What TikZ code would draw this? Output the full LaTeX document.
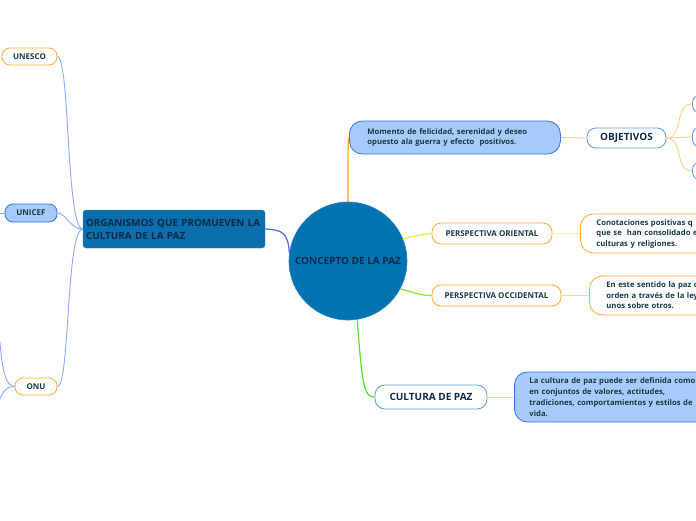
\documentclass[tikz,border=0pt]{standalone}
\usepackage{fontspec}
\setmainfont{Open Sans}
\definecolor{circblue}{HTML}{0073B0}
\definecolor{orgblue}{HTML}{0B6FAE}
\definecolor{lblue}{HTML}{A6CAFA}
\definecolor{bblue}{HTML}{3575DD}
\definecolor{sblue}{HTML}{5B9BD5}
\definecolor{orangeB}{HTML}{FFAA33}
\definecolor{txtd}{HTML}{173C45}
\definecolor{txth}{HTML}{0F2B4A}
\definecolor{cOrange}{HTML}{FFA41B}
\definecolor{cLOrange}{HTML}{FFD08A}
\definecolor{cYellow}{HTML}{EEEE3A}
\definecolor{cLYellow}{HTML}{F4F4A8}
\definecolor{cYGreen}{HTML}{8CEB2E}
\definecolor{cLYGreen}{HTML}{CDF2A6}
\definecolor{cGreen}{HTML}{4CE62A}
\definecolor{cLGreen}{HTML}{C2F2B0}
\definecolor{cBlue}{HTML}{4A6CF7}
\definecolor{cLBlue}{HTML}{8FA8FF}
\begin{document}
\begin{tikzpicture}[x=1pt,y=-1pt,
  pillbox/.style={draw, line width=0.8pt, fill=white, inner sep=0pt, font=\bfseries\fontsize{8}{9}\selectfont, text=txtd},
  hdrbox/.style={draw=sblue, line width=0.8pt, fill=white, inner sep=0pt, font=\bfseries\fontsize{10}{11}\selectfont, text=txth},
  txtbox/.style={draw, line width=0.8pt, inner ysep=0pt, align=left, font=\bfseries\fontsize{7.7}{10.5}\selectfont, text=txtd, anchor=west, rounded corners=13pt},
  mainline/.style={line width=1.2pt},
  subline/.style={line width=0.9pt}
]
\useasboundingbox (0,0) rectangle (696,520);
\clip (0,0) rectangle (696,520);
\fill[white] (0,0) rectangle (696,520);

% center
\node[circle, fill=circblue, draw=circblue!85!white, line width=0.6pt, minimum size=118pt, inner sep=0pt,
  font=\bfseries\fontsize{10}{11}\selectfont, text=txth] (circ) at (348,261) {CONCEPTO DE LA PAZ};

% left branch
\node[fill=orgblue, draw=orgblue!80!white, rounded corners=3pt, minimum width=182pt, minimum height=38pt,
  inner xsep=3pt, inner ysep=0pt, text width=176pt, align=left,
  font=\bfseries\fontsize{9.9}{13}\selectfont, text=txth] (org) at (174,229) {ORGANISMOS QUE PROMUEVEN LA\\CULTURA DE LA PAZ};

\node[pillbox, draw=orangeB, rounded corners=8pt, minimum width=55pt, minimum height=17pt] (unesco) at (29.5,56.5) {UNESCO};
\node[pillbox, draw=bblue, fill=lblue, rounded corners=8pt, minimum width=52pt, minimum height=18pt] (unicef) at (31,213) {UNICEF};
\node[pillbox, draw=orangeB, rounded corners=8pt, minimum width=42pt, minimum height=17pt] (onu) at (36,386.5) {ONU};

\coordinate (ul) at (-2,213);
\coordinate (ol1) at (0,342);
\coordinate (ol2) at (-1,402);

\draw[mainline, cBlue] (org.east) .. controls (282,230) and (288,232) .. (circ.172);
\draw[subline, cLBlue] (org.west) .. controls (66,229) and (70,57) .. (unesco.east);
\draw[subline, cLBlue] (org.west) .. controls (70,229) and (66,213) .. (unicef.east);
\draw[subline, cLBlue] (org.west) .. controls (66,229) and (70,386.5) .. (onu.east);
\draw[subline, cLBlue] (unicef.west) -- (ul);
\draw[subline, cLBlue] (onu.west) .. controls (6,386.5) and (2,370) .. (ol1);
\draw[subline, cLBlue] (onu.west) .. controls (6,386.5) and (2,392) .. (ol2);

% top branch
\node[txtbox, draw=bblue, fill=lblue, minimum height=33pt, inner xsep=18pt, text width=175pt] (mom) at (349,137.5)
  {Momento de felicidad, serenidad y deseo\\opuesto ala guerra y efecto \ positivos.};
\node[hdrbox, rounded corners=9pt, minimum width=79pt, minimum height=20pt] (obj) at (626.5,138) {OBJETIVOS};
\node[draw=sblue, line width=0.8pt, fill=white, rounded corners=8pt, minimum width=60pt, minimum height=18pt, anchor=west, inner sep=0pt] (o1) at (692,104) {};
\node[draw=sblue, line width=0.8pt, fill=white, rounded corners=8pt, minimum width=60pt, minimum height=20pt, anchor=west, inner sep=0pt] (o2) at (692,137) {};
\node[draw=sblue, line width=0.8pt, fill=white, rounded corners=8pt, minimum width=60pt, minimum height=18pt, anchor=west, inner sep=0pt] (o3) at (692,171) {};

\draw[mainline, cOrange] (circ.north) .. controls (348,150) and (348,139) .. (mom.west);
\draw[subline, cLOrange] (mom.east) -- (obj.west);
\draw[subline, cLOrange] (obj.east) .. controls (684,138) and (674,104) .. (o1.west);
\draw[subline, cLOrange] (obj.east) -- (o2.west);
\draw[subline, cLOrange] (obj.east) .. controls (684,138) and (674,171) .. (o3.west);

% oriental
\node[pillbox, draw=orangeB, rounded corners=9pt, minimum width=120pt, minimum height=21pt] (por) at (492,233.5) {PERSPECTIVA ORIENTAL};
\node[txtbox, draw=orangeB, fill=white, minimum height=39pt, inner xsep=16pt, text width=160pt] (con) at (580,233.5)
  {Conotaciones positivas q\\que se \ han consolidado e\\culturas y religiones.};
\draw[mainline, cYellow] (circ.22) .. controls (415,236) and (422,234) .. (por.west);
\draw[subline, cLYellow] (por.east) -- (con.west);

% occidental
\node[pillbox, draw=orangeB, rounded corners=9pt, minimum width=129pt, minimum height=21pt] (poc) at (496.5,295.5) {PERSPECTIVA OCCIDENTAL};
\node[txtbox, draw=orangeB, fill=white, minimum height=39pt, inner xsep=17pt, text width=160pt] (occ) at (589,295.5)
  {En este sentido la paz c\\orden a través de la ley\\unos sobre otros.};
\draw[mainline, cYGreen] (circ.-28) .. controls (412,292) and (422,296) .. (poc.west);
\draw[subline, cLYGreen] (poc.east) -- (occ.west);

% cultura
\node[hdrbox, rounded corners=10pt, minimum width=112pt, minimum height=24pt] (cul) at (431,397) {CULTURA DE PAZ};
\node[txtbox, draw=bblue, fill=lblue, minimum height=50pt, inner xsep=15pt, text width=200pt,
  font=\bfseries\fontsize{7.7}{11}\selectfont] (lac) at (514,397)
  {La cultura de paz puede ser definida como\\en conjuntos de valores, actitudes,\\tradiciones, comportamientos y estilos de\\vida.};
\draw[mainline, cGreen] (circ.-81) .. controls (362,385) and (364,397) .. (cul.west);
\draw[subline, cLGreen] (cul.east) -- (lac.west);
\end{tikzpicture}
\end{document}
